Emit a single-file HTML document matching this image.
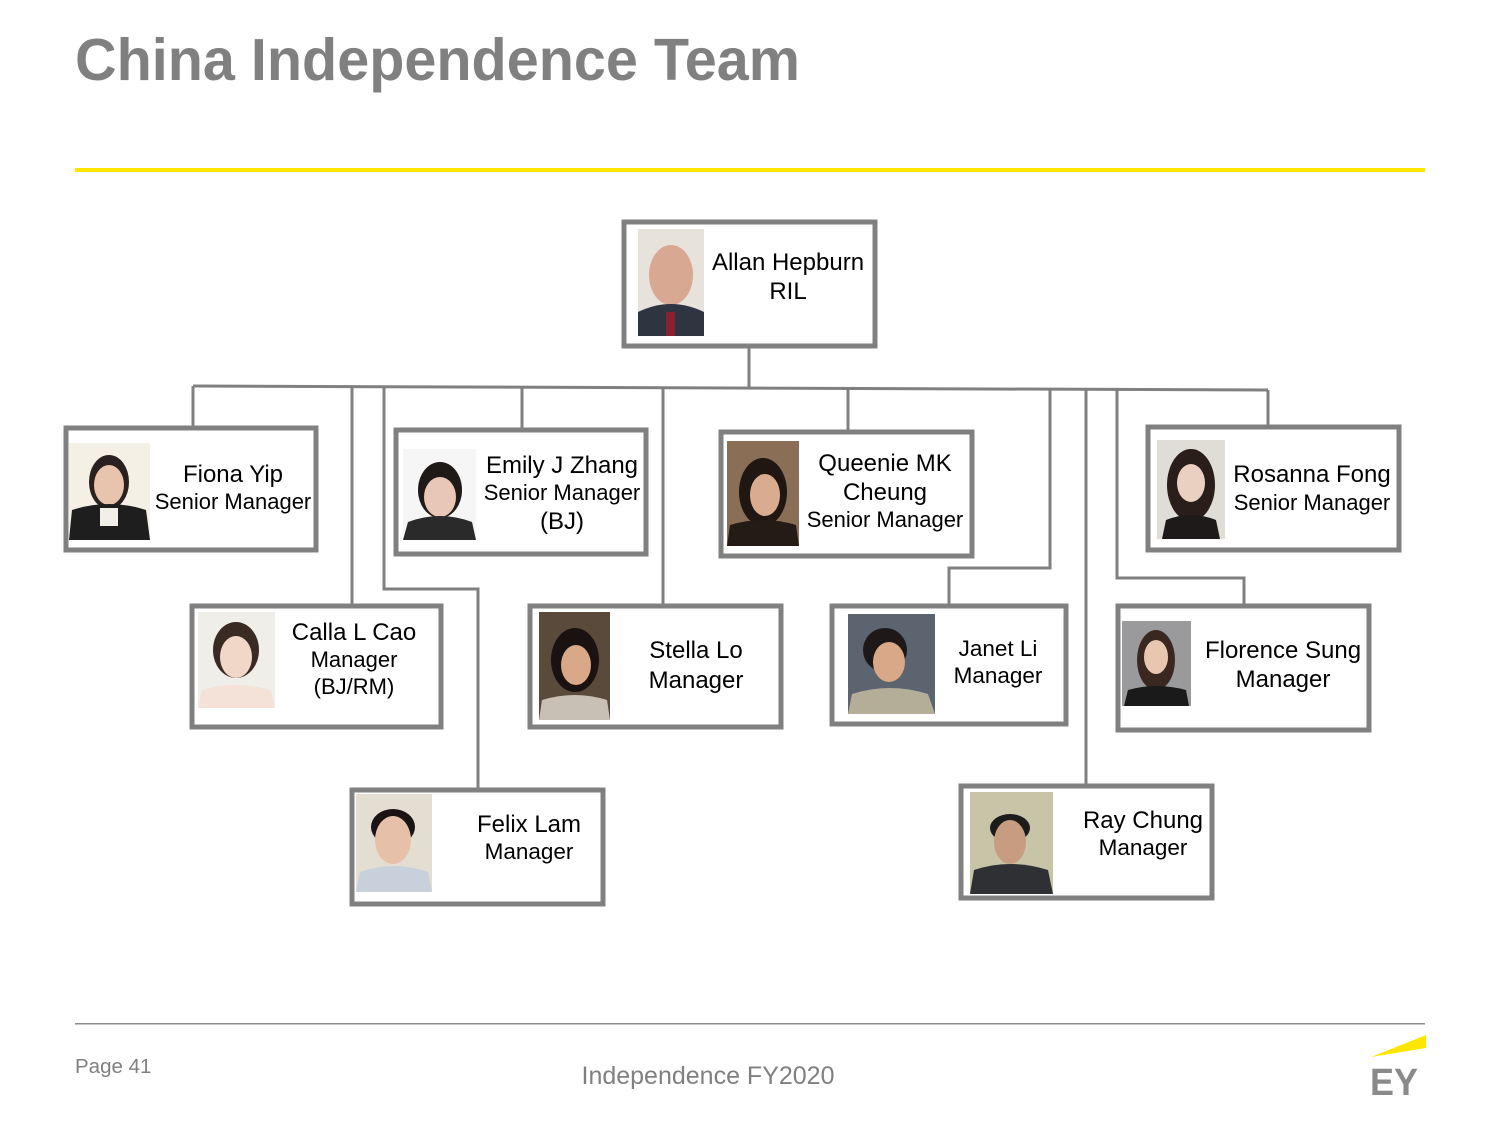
<!DOCTYPE html>
<html><head><meta charset="utf-8"><style>
html,body{margin:0;padding:0;background:#fff}
svg{display:block}
text{font-family:"Liberation Sans",Arial,sans-serif}
</style></head><body>
<svg width="1500" height="1125" viewBox="0 0 1500 1125" xmlns="http://www.w3.org/2000/svg">
<rect width="1500" height="1125" fill="#fff"/>
<text x="75" y="80" font-size="59" font-weight="bold" fill="#808080" textLength="725" lengthAdjust="spacingAndGlyphs">China Independence Team</text>
<rect x="75" y="168" width="1350" height="4" fill="#ffe600"/>
<rect x="75" y="1023" width="1350" height="1.5" fill="#8c8c8c"/>
<text x="75" y="1073" font-size="20.5" fill="#808080">Page 41</text>
<text x="708" y="1084" font-size="25" fill="#808080" text-anchor="middle">Independence FY2020</text>
<polygon points="1371,1057 1426,1035 1426,1048" fill="#ffe600"/>
<text x="1394" y="1095" font-size="38" font-weight="bold" fill="#8a8a8a" text-anchor="middle" textLength="48" lengthAdjust="spacingAndGlyphs">EY</text>

<g stroke="#808080" stroke-width="3" fill="none">
<line x1="749" y1="348" x2="749" y2="388"/>
<line x1="193" y1="386" x2="1268" y2="390"/>
<line x1="193" y1="386" x2="193" y2="426"/>
<line x1="352" y1="387" x2="352" y2="604"/>
<polyline points="384,387 384,589 478,589 478,788"/>
<line x1="522" y1="388" x2="522" y2="428"/>
<line x1="663" y1="388" x2="663" y2="604"/>
<line x1="848" y1="389" x2="848" y2="430"/>
<polyline points="1050,390 1050,568 949,568 949,604"/>
<line x1="1086" y1="390" x2="1086" y2="784"/>
<polyline points="1117,390 1117,578 1244,578 1244,604"/>
<line x1="1268" y1="390" x2="1268" y2="425"/>
</g>

<g stroke="#808080" stroke-width="5" fill="#fff">
<rect x="624" y="222" width="251" height="124"/>
<rect x="66" y="428" width="250" height="122"/>
<rect x="396" y="430" width="250" height="124"/>
<rect x="721" y="432" width="251" height="124"/>
<rect x="1148" y="427" width="251" height="123"/>
<rect x="192" y="606" width="249" height="121"/>
<rect x="530" y="606" width="251" height="121"/>
<rect x="832" y="606" width="234" height="118"/>
<rect x="1118" y="606" width="251" height="124"/>
<rect x="352" y="790" width="251" height="114"/>
<rect x="961" y="786" width="251" height="112"/>
</g>

<g>
<rect x="638" y="229" width="66" height="107" fill="#e8e2dc"/><ellipse cx="671" cy="275" rx="22" ry="30" fill="#d9a892"/><path d="M638 336 L638 312 Q671 296 704 312 L704 336Z" fill="#2e3440"/><rect x="666" y="312" width="9" height="24" fill="#8a2030"/>
<rect x="69" y="443" width="81" height="97" fill="#f4f0e6"/><ellipse cx="109" cy="482" rx="20" ry="27" fill="#2a2020"/><ellipse cx="109" cy="485" rx="15" ry="20" fill="#e8c4ae"/><path d="M69 540 L72 510 Q109 498 146 510 L150 540Z" fill="#1e1e1e"/><rect x="100" y="508" width="18" height="18" fill="#f2efe8"/>
<rect x="403" y="449" width="73" height="91" fill="#f6f6f6"/><ellipse cx="440" cy="490" rx="22" ry="28" fill="#1f1a18"/><ellipse cx="440" cy="497" rx="16" ry="20" fill="#e9c7b6"/><path d="M403 540 L408 522 Q440 510 472 522 L476 540Z" fill="#2a2a2a"/>
<rect x="727" y="441" width="72" height="105" fill="#8a6e55"/><ellipse cx="763" cy="492" rx="24" ry="34" fill="#201612"/><ellipse cx="765" cy="495" rx="15" ry="21" fill="#d9ac90"/><path d="M727 546 L730 525 Q763 515 796 525 L799 546Z" fill="#241a16"/>
<rect x="1157" y="440" width="68" height="99" fill="#e0dcd6"/><ellipse cx="1191" cy="485" rx="24" ry="36" fill="#2a1e1a"/><ellipse cx="1191" cy="483" rx="14" ry="19" fill="#ead0c0"/><path d="M1162 539 L1166 520 Q1191 510 1216 520 L1220 539Z" fill="#1e1a1a"/>
<rect x="198" y="612" width="77" height="96" fill="#f0eee9"/><ellipse cx="236" cy="650" rx="23" ry="28" fill="#3a2a24"/><ellipse cx="236" cy="657" rx="16" ry="21" fill="#f1d7c8"/><path d="M198 708 L202 690 Q236 680 271 690 L275 708Z" fill="#f4e2d8"/>
<rect x="539" y="612" width="71" height="108" fill="#5a4a3c"/><ellipse cx="575" cy="660" rx="24" ry="32" fill="#1a1210"/><ellipse cx="576" cy="665" rx="15" ry="20" fill="#d8a888"/><path d="M539 720 L542 700 Q575 690 607 700 L610 720Z" fill="#c8c0b4"/>
<rect x="848" y="614" width="87" height="100" fill="#5c6470"/><ellipse cx="885" cy="650" rx="22" ry="22" fill="#1e1818"/><ellipse cx="889" cy="662" rx="16" ry="20" fill="#d8a888"/><path d="M848 714 L852 694 Q890 682 928 694 L935 714Z" fill="#b4ae98"/>
<rect x="1122" y="621" width="69" height="85" fill="#9a9a9c"/><ellipse cx="1156" cy="660" rx="19" ry="30" fill="#3a2820"/><ellipse cx="1156" cy="657" rx="12" ry="17" fill="#e8c6b0"/><path d="M1124 706 L1128 690 Q1156 682 1186 690 L1189 706Z" fill="#1a1a1a"/>
<rect x="356" y="794" width="76" height="98" fill="#e4ddd2"/><ellipse cx="393" cy="827" rx="22" ry="18" fill="#1a1414"/><ellipse cx="393" cy="840" rx="18" ry="24" fill="#e6c0a8"/><path d="M356 892 L360 872 Q393 860 428 872 L432 892Z" fill="#c8d0dc"/>
<rect x="970" y="792" width="83" height="102" fill="#c8c4a8"/><ellipse cx="1010" cy="828" rx="20" ry="14" fill="#1c1c1c"/><ellipse cx="1010" cy="842" rx="16" ry="22" fill="#c89c80"/><path d="M970 894 L974 870 Q1010 858 1048 870 L1053 894Z" fill="#2e3034"/>
</g>

<g fill="#000" text-anchor="middle">
<text x="788" y="270" font-size="24">Allan Hepburn</text>
<text x="788" y="299" font-size="24">RIL</text>
<text x="233" y="482" font-size="24">Fiona Yip</text>
<text x="233" y="509" font-size="22">Senior Manager</text>
<text x="562" y="473" font-size="24">Emily J Zhang</text>
<text x="562" y="500" font-size="22">Senior Manager</text>
<text x="562" y="529" font-size="24">(BJ)</text>
<text x="885" y="471" font-size="24">Queenie MK</text>
<text x="885" y="500" font-size="24">Cheung</text>
<text x="885" y="527" font-size="22">Senior Manager</text>
<text x="1312" y="482" font-size="24">Rosanna Fong</text>
<text x="1312" y="510" font-size="22">Senior Manager</text>
<text x="354" y="640" font-size="24">Calla L Cao</text>
<text x="354" y="667" font-size="22">Manager</text>
<text x="354" y="694" font-size="22">(BJ/RM)</text>
<text x="696" y="658" font-size="24">Stella Lo</text>
<text x="696" y="688" font-size="24">Manager</text>
<text x="998" y="656" font-size="22.5">Janet Li</text>
<text x="998" y="683" font-size="22.5">Manager</text>
<text x="1283" y="658" font-size="24">Florence Sung</text>
<text x="1283" y="687" font-size="24">Manager</text>
<text x="529" y="832" font-size="24">Felix Lam</text>
<text x="529" y="859" font-size="22.5">Manager</text>
<text x="1143" y="828" font-size="24">Ray Chung</text>
<text x="1143" y="855" font-size="22.5">Manager</text>
</g>
</svg>
</body></html>
